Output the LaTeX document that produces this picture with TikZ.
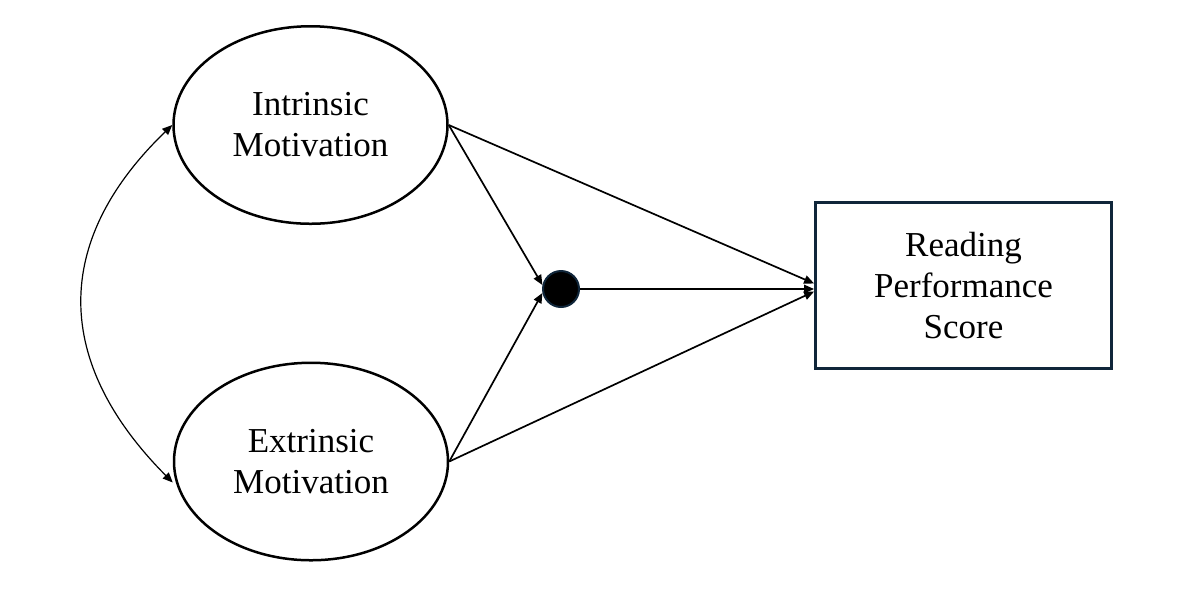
\documentclass[tikz,border=0pt]{standalone}
\usepackage{fontspec}
\setmainfont{Liberation Serif}
\usepackage{xcolor}
\usetikzlibrary{arrows.meta, shapes.geometric}
\definecolor{navy}{HTML}{10263A}

\begin{document}
\begin{tikzpicture}[x=0.5pt, y=-0.5pt, font=\fontsize{17.5}{20.5}\selectfont,
    >={Triangle[length=5pt, width=4.2pt]}]
    \useasboundingbox (0,0) rectangle (1188,602);
    \node (intrinsic) [ellipse, draw, line width=1.25pt, minimum width=137pt, minimum height=98.75pt, inner sep=0pt, align=center] at (310.5,125) {Intrinsic\\Motivation};
    \node (extrinsic) [ellipse, draw, line width=1.25pt, minimum width=137pt, minimum height=98.75pt, inner sep=0pt, align=center] at (311,461.5) {Extrinsic\\Motivation};
    \node (score) [rectangle, draw=navy, line width=1.4pt, minimum width=148pt, minimum height=83pt, inner sep=0pt, align=center] at (963.5,285.5) {Reading\\Performance\\Score};
    \node (mediator) [circle, draw=navy, fill=black, line width=1pt, minimum size=18pt, inner sep=0pt] at (561,289) {};

    \draw [<->, line width=0.6pt] (intrinsic.west) .. controls (51,242) and (54,363) .. ([yshift=-10.5pt]extrinsic.west);
    \draw [->, line width=0.85pt] (intrinsic.east) -- (mediator.168);
    \draw [->, line width=0.85pt] (extrinsic.east) -- (mediator.192);
    \draw [->, line width=0.85pt] (intrinsic.east) -- ([yshift=1pt]score.west);
    \draw [->, line width=0.85pt] (extrinsic.east) -- ([yshift=-3pt]score.west);
    \draw [->, line width=0.85pt] (mediator.east) -- (mediator -| score.west);
\end{tikzpicture}
\end{document}
